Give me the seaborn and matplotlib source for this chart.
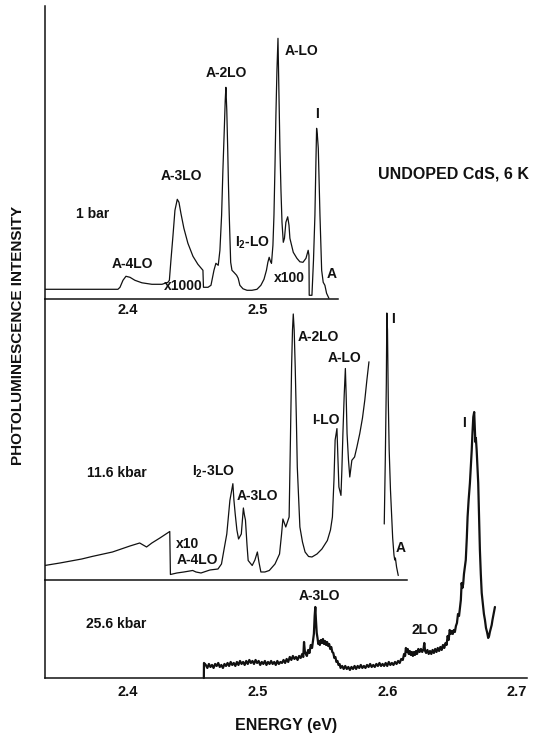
import numpy as np
import matplotlib
matplotlib.use("Agg")
import matplotlib.pyplot as plt
import seaborn as sns

# photoluminescence spectra of undoped CdS at 6 K
# intensities are arbitrary units (relative height above each panel's baseline)

# 1 bar spectrum
top_energy = [2.3357, 2.3922, 2.3938, 2.3961, 2.3984, 2.4015, 2.4053, 2.4107, 2.4184, 2.4262,
              2.4308, 2.4319, 2.4331, 2.4347, 2.4362, 2.4380, 2.4393, 2.4408, 2.4431, 2.4462,
              2.4501, 2.4539, 2.4578, 2.4582, 2.4617, 2.4640, 2.4663, 2.4678, 2.4696, 2.4709,
              2.4722, 2.4732, 2.4742, 2.4750, 2.4755, 2.4762, 2.4769, 2.4775, 2.4781, 2.4792,
              2.4802, 2.4817, 2.4838, 2.4850, 2.4863, 2.4887, 2.4918, 2.4956, 2.4995, 2.5025,
              2.5049, 2.5068, 2.5079, 2.5089, 2.5099, 2.5107, 2.5118, 2.5126, 2.5134, 2.5141,
              2.5149, 2.5157, 2.5164, 2.5172, 2.5180, 2.5188, 2.5198, 2.5207, 2.5218, 2.5232,
              2.5242, 2.5249, 2.5275, 2.5303, 2.5326, 2.5350, 2.5373, 2.5390, 2.5396, 2.5398,
              2.5419, 2.5431, 2.5442, 2.5450, 2.5455, 2.5461, 2.5468, 2.5481, 2.5494, 2.5506,
              2.5519, 2.5532, 2.5550]
top_intensity = [10, 10, 12, 19, 23, 22, 19, 16.5, 15, 15,
                 17, 19, 39, 64, 89, 100, 97, 86, 71, 56,
                 43, 35, 29, 12, 12, 14, 29, 36, 34, 49,
                 84, 129, 167, 199, 212, 189, 151, 114, 84, 37,
                 29, 27, 24, 21, 14, 10.5, 9, 9, 10, 14,
                 20, 29, 37, 42, 38, 36, 54, 84, 134, 184,
                 229, 261, 209, 151, 109, 77, 57, 61, 77, 82.5,
                 74, 61, 47, 41, 37.5, 37, 41, 49, 44, 4,
                 4, 39, 84, 139, 171, 164, 151, 84, 29, 17,
                 14, 6, 1]

# 11.6 kbar spectrum, two recorded segments
mid_energy = [2.3357, 2.3475, 2.3643, 2.3722, 2.3880, 2.4015, 2.4090, 2.4143, 2.4184, 2.4246,
              2.4322, 2.4327, 2.4377, 2.4431, 2.4499, 2.4524, 2.4563, 2.4632, 2.4694, 2.4721,
              2.4740, 2.4762, 2.4786, 2.4809, 2.4817, 2.4827, 2.4840, 2.4853, 2.4874, 2.4890,
              2.4898, 2.4906, 2.4918, 2.4927, 2.4958, 2.4979, 2.4998, 2.5010, 2.5025, 2.5056,
              2.5090, 2.5134, 2.5169, 2.5184, 2.5195, 2.5217, 2.5243, 2.5253, 2.5262, 2.5269,
              2.5275, 2.5282, 2.5290, 2.5299, 2.5306, 2.5326, 2.5346, 2.5366, 2.5393, 2.5419,
              2.5458, 2.5496, 2.5538, 2.5562, 2.5577, 2.5589, 2.5598, 2.5612, 2.5620, 2.5627,
              2.5643, 2.5650, 2.5658, 2.5668, 2.5677, 2.5683, 2.5690, 2.5701, 2.5711, 2.5727,
              2.5748, 2.5766, 2.5788, 2.5809, 2.5827, 2.5843, 2.5859]
mid_intensity = [14.5, 17, 21, 23.5, 28, 34, 37, 33, 37, 42,
                 48.5, 5.5, 7, 8, 9.5, 8, 7, 10, 11, 16,
                 30, 46, 79.6, 96.3, 80, 66, 50, 41, 46, 72,
                 65, 60, 35, 19.5, 14.5, 20, 28, 18, 8, 8,
                 9.5, 16, 26, 45, 61, 53, 63, 140, 213, 250,
                 266, 250, 213, 160, 113, 53, 38, 28, 23.5, 23,
                 26, 31, 39.5, 50, 63, 100, 140, 151.4, 120, 93,
                 84.6, 110, 146.4, 185, 211.5, 185, 146.4, 120, 103, 119.7,
                 123, 133, 146.4, 162, 180, 200, 218.2]
mid_peak_energy = [2.5977, 2.5985, 2.5993, 2.5997, 2.6002, 2.6008, 2.6015, 2.6025, 2.6042, 2.6052,
                   2.6058, 2.6063, 2.6072, 2.6085]
mid_peak_intensity = [56, 120, 196.5, 267, 250, 180, 130, 90, 42, 25,
                      20, 22, 13, 4.5]

# 25.6 kbar spectrum (noisy)
bot_energy = [2.4585, 2.4586, 2.4600, 2.4612, 2.4624, 2.4636, 2.4648, 2.4660, 2.4672, 2.4684,
              2.4696, 2.4708, 2.4720, 2.4732, 2.4744, 2.4756, 2.4768, 2.4780, 2.4792, 2.4804,
              2.4816, 2.4828, 2.4840, 2.4852, 2.4864, 2.4876, 2.4888, 2.4900, 2.4912, 2.4924,
              2.4936, 2.4948, 2.4960, 2.4972, 2.4984, 2.4996, 2.5008, 2.5020, 2.5032, 2.5044,
              2.5056, 2.5068, 2.5080, 2.5092, 2.5104, 2.5116, 2.5128, 2.5140, 2.5152, 2.5164,
              2.5176, 2.5188, 2.5200, 2.5212, 2.5224, 2.5236, 2.5248, 2.5260, 2.5272, 2.5284,
              2.5296, 2.5308, 2.5320, 2.5332, 2.5344, 2.5352, 2.5358, 2.5364, 2.5372, 2.5380,
              2.5390, 2.5400, 2.5410, 2.5420, 2.5428, 2.5434, 2.5440, 2.5445, 2.5450, 2.5456,
              2.5462, 2.5468, 2.5474, 2.5480, 2.5488, 2.5496, 2.5504, 2.5512, 2.5520, 2.5528,
              2.5536, 2.5544, 2.5552, 2.5560, 2.5568, 2.5576, 2.5584, 2.5592, 2.5600, 2.5608,
              2.5616, 2.5624, 2.5632, 2.5640, 2.5652, 2.5664, 2.5676, 2.5688, 2.5700, 2.5712,
              2.5724, 2.5736, 2.5748, 2.5760, 2.5772, 2.5784, 2.5796, 2.5808, 2.5820, 2.5832,
              2.5844, 2.5856, 2.5868, 2.5880, 2.5892, 2.5904, 2.5916, 2.5928, 2.5940, 2.5952,
              2.5964, 2.5976, 2.5988, 2.6000, 2.6012, 2.6024, 2.6036, 2.6048, 2.6060, 2.6072,
              2.6084, 2.6096, 2.6108, 2.6120, 2.6130, 2.6138, 2.6144, 2.6150, 2.6158, 2.6166,
              2.6174, 2.6182, 2.6190, 2.6198, 2.6206, 2.6214, 2.6222, 2.6230, 2.6240, 2.6250,
              2.6260, 2.6270, 2.6280, 2.6286, 2.6292, 2.6300, 2.6310, 2.6320, 2.6330, 2.6340,
              2.6350, 2.6360, 2.6370, 2.6380, 2.6390, 2.6400, 2.6410, 2.6420, 2.6430, 2.6440,
              2.6450, 2.6458, 2.6466, 2.6474, 2.6482, 2.6490, 2.6498, 2.6506, 2.6514, 2.6522,
              2.6530, 2.6538, 2.6546, 2.6554, 2.6562, 2.6568, 2.6574, 2.6580, 2.6586, 2.6592,
              2.6600, 2.6606, 2.6614, 2.6620, 2.6628, 2.6638, 2.6646, 2.6652, 2.6658, 2.6664,
              2.6671, 2.6676, 2.6680, 2.6684, 2.6690, 2.6696, 2.6702, 2.6708, 2.6715, 2.6722,
              2.6729, 2.6738, 2.6746, 2.6754, 2.6762, 2.6770, 2.6779, 2.6786, 2.6792, 2.6798,
              2.6806, 2.6812, 2.6818, 2.6824, 2.6831]
bot_intensity = [0, 15, 13, 10, 14, 11, 13, 10, 14, 12,
                 15, 11, 13, 10, 14, 12, 15, 12, 16, 13,
                 15, 12, 16, 13, 17, 14, 16, 13, 17, 14,
                 18, 15, 17, 14, 18, 15, 17, 13, 16, 14,
                 17, 13, 16, 14, 17, 14, 16, 13, 17, 14,
                 16, 15, 18, 15, 19, 16, 21, 18, 22, 19,
                 21, 18, 22, 20, 24, 21, 36, 27, 24, 22,
                 28, 25, 33, 30, 38, 44, 62, 71, 58, 45,
                 40, 34, 37, 33, 38, 35, 39, 34, 37, 33,
                 36, 32, 34, 29, 31, 26, 25, 20, 21, 16,
                 17, 13, 14, 10, 12, 9, 12, 9, 11, 8,
                 11, 9, 12, 9, 12, 10, 13, 10, 12, 10,
                 13, 11, 14, 11, 13, 11, 14, 12, 15, 12,
                 14, 12, 15, 12, 16, 13, 15, 13, 16, 14,
                 17, 15, 19, 18, 24, 22, 30, 26, 29, 24,
                 27, 23, 26, 22, 26, 23, 27, 24, 29, 26,
                 29, 26, 29, 35, 27, 25, 28, 24, 27, 24,
                 28, 25, 29, 26, 30, 27, 31, 28, 33, 30,
                 35, 33, 42, 38, 48, 44, 47, 44, 48, 46,
                 52, 55, 64, 62, 71, 78, 95, 90, 94, 104,
                 112, 118, 140, 161, 178, 195, 214, 228, 246, 261,
                 266, 250, 236, 240, 228, 212, 195, 162, 128, 104,
                 85, 74, 64, 58, 50, 46, 40, 42, 46, 49,
                 53, 58, 62, 66, 71]

assert len(top_energy) == len(top_intensity)
assert len(mid_energy) == len(mid_intensity)
assert len(mid_peak_energy) == len(mid_peak_intensity)
assert len(bot_energy) == len(bot_intensity)

sns.set_style("white")
plt.rcParams['font.family'] = ['Liberation Sans', 'DejaVu Sans']
plt.rcParams['font.weight'] = 'bold'
plt.rcParams['mathtext.default'] = 'regular'

ink = '#111111'
xmin, xmax = 2.3357, 2.7076

fig = plt.figure(figsize=(5.34, 7.35), dpi=100)
ax_top = fig.add_axes([0.0837, 0.5928, 0.9026, 0.3990])
ax_mid = fig.add_axes([0.0837, 0.2109, 0.9026, 0.3819])
ax_bot = fig.add_axes([0.0837, 0.0776, 0.9026, 0.1333])

panels = [
    (ax_top, 293.3, 2.562, [2.4, 2.5], [2.35, 2.45, 2.55], True, 3),
    (ax_mid, 280.7, 2.615, [2.4, 2.5, 2.6], [2.35, 2.45, 2.55], False, 3),
    (ax_bot, 98.0, xmax, [2.4, 2.5, 2.6, 2.7], [2.35, 2.45, 2.55, 2.65], True, 5),
]
for ax, ytop, xend, major, minor, show_labels, pad in panels:
    ax.set_facecolor('none')
    ax.set_xlim(xmin, xmax)
    ax.set_ylim(0, ytop)
    ax.set_yticks([])
    for side in ['top', 'right']:
        ax.spines[side].set_visible(False)
    for side in ['left', 'bottom']:
        ax.spines[side].set_color(ink)
        ax.spines[side].set_linewidth(1.1)
    ax.spines['bottom'].set_bounds(xmin, xend)
    ax.set_xticks(major)
    ax.set_xticks(minor, minor=True)
    if show_labels:
        ax.set_xticklabels(['%.1f' % v for v in major])
    else:
        ax.set_xticklabels([])
    ax.tick_params(axis='x', which='major', direction='in', length=7, width=1.1,
                   color=ink, labelsize=10.5, pad=pad, labelcolor=ink)
    ax.tick_params(axis='x', which='minor', direction='in', length=4, width=1.1, color=ink)

sns.lineplot(x=top_energy, y=top_intensity, ax=ax_top, color=ink, lw=0.9,
             sort=False, estimator=None)
sns.lineplot(x=mid_energy, y=mid_intensity, ax=ax_mid, color=ink, lw=0.9,
             sort=False, estimator=None)
sns.lineplot(x=mid_peak_energy, y=mid_peak_intensity, ax=ax_mid, color=ink, lw=0.9,
             sort=False, estimator=None)
sns.lineplot(x=bot_energy, y=bot_intensity, ax=ax_bot, color=ink, lw=1.6,
             sort=False, estimator=None, clip_on=False)

lab = dict(fontsize=10, fontweight='bold', color=ink, ha='center', va='center')

# 1 bar panel
ax_top.text(2.4030, 35, 'A-4LO', **lab)
ax_top.text(2.4408, 123, 'A-3LO', **lab)
ax_top.text(2.3725, 85, '1 bar', **lab)
ax_top.text(2.4755, 226, 'A-2LO', **lab)
ax_top.text(2.5339, 248, 'A-LO', **lab)
ax_top.text(2.5455, 185, 'I', **lab)
ax_top.text(2.4964, 56, r'I$_2$-LO', **lab)
ax_top.text(2.4424, 13, 'x1000', **lab)
ax_top.text(2.5249, 21, 'x100', **lab)
ax_top.text(2.5573, 25, 'A', **lab)
ax_top.text(2.5928, 125, 'UNDOPED CdS, 6 K', fontsize=11.5, fontweight='bold',
            color=ink, ha='left', va='center')

# 11.6 kbar panel
ax_mid.text(2.5465, 243, 'A-2LO', **lab)
ax_mid.text(2.5674, 222, 'A-LO', **lab)
ax_mid.text(2.5527, 160, 'I-LO', **lab)
ax_mid.text(2.6044, 261, 'I', **lab)
ax_mid.text(2.3914, 107, '11.6 kbar', **lab)
ax_mid.text(2.4659, 108, r'I$_2$-3LO', **lab)
ax_mid.text(2.5002, 84, 'A-3LO', **lab)
ax_mid.text(2.4462, 36, 'x10', **lab)
ax_mid.text(2.4532, 20, 'A-4LO', **lab)
ax_mid.text(2.6106, 32, 'A', **lab)

# 25.6 kbar panel
ax_bot.text(2.5473, 82, 'A-3LO', **lab)
ax_bot.text(2.3907, 54, '25.6 kbar', **lab)
ax_bot.text(2.6291, 48, '2LO', **lab)
ax_bot.text(2.6589, 255, 'I', clip_on=False, **lab)

ax_bot.set_xlabel('ENERGY (eV)', fontsize=11.5, fontweight='bold', color=ink, labelpad=14)
fig.text(0.0337, 0.5435, 'PHOTOLUMINESCENCE INTENSITY', rotation=90, fontsize=11,
         fontweight='bold', color=ink, ha='center', va='center')

fig.savefig('out.png', dpi=100)
